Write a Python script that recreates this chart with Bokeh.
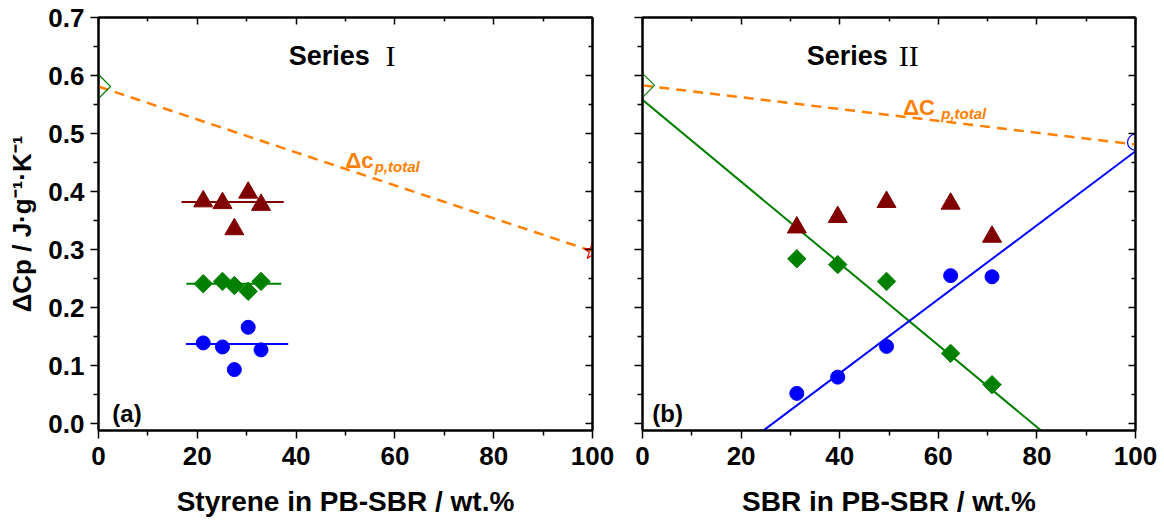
import numpy as np
from bokeh.plotting import figure
from bokeh.models import LinearAxis, FixedTicker, Range1d, Label, CustomJSTickFormatter
from bokeh.layouts import row
from bokeh.embed import file_html
from bokeh.resources import INLINE

# ---------------- data ----------------
# Series I (panel a): styrene content in PB-SBR / wt.%
s1_x = [21.2, 25.1, 27.5, 30.3, 32.9]
s1_tri = [0.383, 0.380, 0.335, 0.398, 0.377]
s1_dia = [0.241, 0.245, 0.238, 0.228, 0.245]
s1_cir = [0.139, 0.132, 0.093, 0.166, 0.127]
# mean lines (x extent and level)
s1_tri_mean_x = [16.8, 37.5]
s1_tri_mean_y = [0.382, 0.382]
s1_dia_mean_x = [17.8, 37.0]
s1_dia_mean_y = [0.241, 0.241]
s1_cir_mean_x = [17.7, 38.4]
s1_cir_mean_y = [0.137, 0.137]
# total dCp line
s1_total_x = [0, 100]
s1_total_y = [0.581, 0.297]
s1_pb_x = [0]
s1_pb_y = [0.581]
s1_ps_x = [100]
s1_ps_y = [0.297]

# Series II (panel b): SBR content in PB-SBR / wt.%
s2_x = [31.3, 39.6, 49.5, 62.5, 70.9]
s2_tri = [0.338, 0.356, 0.382, 0.379, 0.322]
s2_dia = [0.284, 0.274, 0.245, 0.121, 0.067]
s2_cir = [0.052, 0.080, 0.133, 0.255, 0.253]
s2_total_x = [0, 100]
s2_total_y = [0.583, 0.481]
s2_pb_x = [0]
s2_pb_y = [0.583]
s2_sbr_x = [100]
s2_sbr_y = [0.485]
# linear fits: y = intercept + slope * x
green_fit_intercept = 0.558
green_fit_slope = -0.00705
blue_fit_intercept = -0.1685
blue_fit_slope = 0.00638

x_ticks = [0, 20, 40, 60, 80, 100]
x_minor = [10, 30, 50, 70, 90]
y_ticks = [0.0, 0.1, 0.2, 0.3, 0.4, 0.5, 0.6, 0.7]
y_minor = [0.05, 0.15, 0.25, 0.35, 0.45, 0.55, 0.65]

DARKRED = "#800000"
GREEN = "#008000"
BLUE = "#0000FF"
ORANGE = "#FF8000"
FONT = "Liberation Sans"
SERIF = "Liberation Serif"


def style_axis(ax, labels, tick_in):
    ax.axis_line_color = "black"
    ax.axis_line_width = 2
    ax.major_tick_line_color = "black"
    ax.minor_tick_line_color = "black"
    ax.major_tick_line_width = 1.5
    ax.minor_tick_line_width = 1.5
    if tick_in:
        ax.major_tick_in = 7
        ax.major_tick_out = 0
        ax.minor_tick_in = 4
        ax.minor_tick_out = 0
    else:
        ax.major_tick_in = 0
        ax.major_tick_out = 8
        ax.minor_tick_in = 0
        ax.minor_tick_out = 5
    if labels:
        ax.major_label_text_font = FONT
        ax.major_label_text_font_style = "bold"
        ax.major_label_text_font_size = "26px"
        ax.major_label_text_color = "black"
    else:
        # mirror axes: ticks only, no labels
        ax.major_label_text_font_size = "0px"
        ax.major_label_standoff = 0
        ax.axis_label = None
        ax.formatter = CustomJSTickFormatter(code="return '';")


def make_fig(width, bl, br, ylab, xlab):
    p = figure(width=width, height=520, x_range=Range1d(0, 100),
               y_range=Range1d(-0.012, 0.7), output_backend="svg",
               toolbar_location=None, min_border_left=bl, min_border_right=br,
               min_border_top=17, min_border_bottom=90)
    p.grid.visible = False
    p.outline_line_color = "black"
    p.outline_line_width = 2
    p.background_fill_color = "white"
    p.border_fill_color = "white"

    xb = p.xaxis[0]
    xb.ticker = FixedTicker(ticks=x_ticks, minor_ticks=x_minor)
    style_axis(xb, True, False)
    xb.major_label_standoff = 8
    xb.axis_label = xlab
    xb.axis_label_text_font = FONT
    xb.axis_label_text_font_style = "bold"
    xb.axis_label_text_font_size = "28px"
    xb.axis_label_text_color = "black"
    xb.axis_label_standoff = 18

    yl = p.yaxis[0]
    yl.ticker = FixedTicker(ticks=y_ticks, minor_ticks=y_minor)
    style_axis(yl, ylab is not None, False)
    if ylab is not None:
        yl.formatter = CustomJSTickFormatter(code="return tick.toFixed(1);")
        yl.major_label_standoff = 6
        yl.axis_label = ylab
        yl.axis_label_text_font = FONT
        yl.axis_label_text_font_style = "bold"
        yl.axis_label_text_font_size = "26px"
        yl.axis_label_text_color = "black"
        yl.axis_label_standoff = 8

    yr = LinearAxis(ticker=FixedTicker(ticks=y_ticks, minor_ticks=y_minor))
    style_axis(yr, False, True)
    p.add_layout(yr, "right")
    xt = LinearAxis(ticker=FixedTicker(ticks=x_ticks, minor_ticks=x_minor))
    style_axis(xt, False, True)
    p.add_layout(xt, "above")
    return p


def add_text(p, x, y, text, size, font=FONT, style="bold", color="black"):
    p.add_layout(Label(x=x, y=y, text=text, text_font=font, text_font_style=style,
                       text_font_size=size, text_color=color,
                       text_baseline="alphabetic", text_align="left"))


# ---------------- panel (a) ----------------
pa = make_fig(620, 98, 28, "ΔCp / J·g⁻¹·K⁻¹", "Styrene in PB-SBR / wt.%")
pa.line(s1_total_x, s1_total_y, line_color=ORANGE, line_width=2.5, line_dash="10 7")
pa.line(s1_tri_mean_x, s1_tri_mean_y, line_color=DARKRED, line_width=2)
pa.line(s1_dia_mean_x, s1_dia_mean_y, line_color=GREEN, line_width=2)
pa.line(s1_cir_mean_x, s1_cir_mean_y, line_color=BLUE, line_width=2)
pa.scatter(s1_x, s1_tri, marker="triangle", size=19, fill_color=DARKRED, line_color=DARKRED)
pa.scatter(s1_x, s1_dia, marker="square", angle=np.pi / 4, size=13, fill_color=GREEN, line_color=GREEN)
pa.scatter(s1_x, s1_cir, marker="circle", size=14, fill_color=BLUE, line_color=BLUE)
pa.scatter(s1_pb_x, s1_pb_y, marker="square", angle=np.pi / 4, size=17, fill_color=None, line_color=GREEN, line_width=1.2)
pa.scatter(s1_ps_x, s1_ps_y, marker="star", size=18, fill_color=None, line_color="#FF0000", line_width=1.2)
add_text(pa, 38.5, 0.634, "Series", "27px")
add_text(pa, 58.1, 0.634, "I", "30px", font=SERIF, style="normal")
add_text(pa, 2.8, 0.017, "(a)", "24px")
add_text(pa, 50.0, 0.453, "Δc", "22px", color=ORANGE)
add_text(pa, 55.9, 0.443, "p,total", "15px", style="bold italic", color=ORANGE)

# ---------------- panel (b) ----------------
pb = make_fig(544, 22, 29, None, "SBR in PB-SBR / wt.%")
gx = np.array([0.0, 85.0])
bx = np.array([20.0, 100.0])
pb.line(s2_total_x, s2_total_y, line_color=ORANGE, line_width=2.5, line_dash="10 7")
pb.line(gx, green_fit_intercept + green_fit_slope * gx, line_color=GREEN, line_width=2)
pb.line(bx, blue_fit_intercept + blue_fit_slope * bx, line_color=BLUE, line_width=2)
pb.scatter(s2_x, s2_tri, marker="triangle", size=19, fill_color=DARKRED, line_color=DARKRED)
pb.scatter(s2_x, s2_dia, marker="square", angle=np.pi / 4, size=13, fill_color=GREEN, line_color=GREEN)
pb.scatter(s2_x, s2_cir, marker="circle", size=14, fill_color=BLUE, line_color=BLUE)
pb.scatter(s2_pb_x, s2_pb_y, marker="square", angle=np.pi / 4, size=17, fill_color=None, line_color=GREEN, line_width=1.2)
pb.scatter(s2_sbr_x, s2_sbr_y, marker="circle", size=16, fill_color=None, line_color=BLUE, line_width=1.2)
add_text(pb, 33.3, 0.634, "Series", "27px")
add_text(pb, 52.0, 0.634, "II", "30px", font=SERIF, style="normal")
add_text(pb, 2.0, 0.017, "(b)", "24px")
add_text(pb, 52.9, 0.545, "ΔC", "22px", color=ORANGE)
add_text(pb, 60.6, 0.535, "p,total", "15px", style="bold italic", color=ORANGE)

layout = row(pa, pb)
open("out.html", "w").write(file_html(layout, INLINE))
